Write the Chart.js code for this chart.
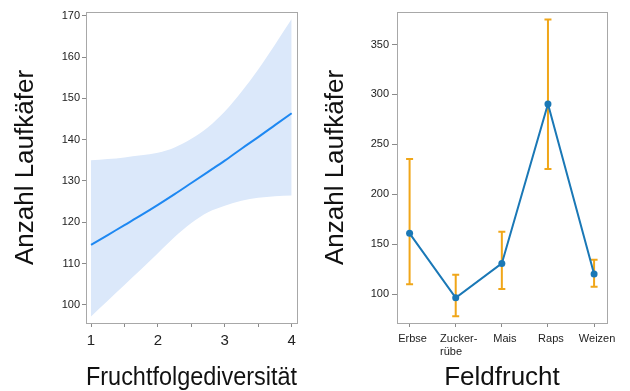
<!DOCTYPE html>
<html><head><meta charset="utf-8">
<script src="https://cdn.jsdelivr.net/npm/chart.js@4"></script>
<style>
html,body{margin:0;padding:0;background:#fff;}
#wrap{position:relative;width:630px;height:391px;overflow:hidden;background:#fff;}
canvas{position:absolute;top:0;}
</style></head><body>
<div id="wrap">
<canvas id="c1" width="315" height="391" style="left:0"></canvas>
<canvas id="c2" width="315" height="391" style="left:315px"></canvas>
</div>
<script>
// ---- Left panel: model fit vs. crop rotation diversity ----
const diversity = [1, 1.25, 1.5, 1.75, 2, 2.25, 2.5, 2.75, 3, 3.25, 3.5, 3.75, 4];
const fitMean   = [114.5, 116.9, 119.3, 121.7, 124.2, 126.8, 129.5, 132.2, 134.9, 137.8, 140.6, 143.5, 146.4];
const ciLower   = [97.2, 101.0, 104.8, 108.6, 112.5, 116.4, 119.8, 122.4, 124.0, 125.2, 125.9, 126.3, 126.5];
const ciUpper   = [135.0, 135.3, 135.7, 136.2, 136.8, 138.1, 140.2, 143.0, 146.8, 151.6, 157.0, 163.0, 169.2];
const diversityTicks = [1, 1.5, 2, 2.5, 3, 3.5, 4];
const leftYTicks = [100, 110, 120, 130, 140, 150, 160, 170];

// ---- Right panel: beetles per crop ----
const crops = ['Erbse', ['Zucker-', 'rübe     '], 'Mais', 'Raps', 'Weizen'];
const cropMean  = [160.8, 96.3, 130.7, 290.5, 120.0];
const cropLower = [109.7, 77.7, 105.0, 225.2, 107.3];
const cropUpper = [235.2, 119.3, 162.4, 375.0, 134.3];
const rightYTicks = [100, 150, 200, 250, 300, 350];

const FONT = "'Liberation Sans', Arial, Helvetica, sans-serif";
Chart.defaults.font.family = FONT;
Chart.defaults.color = '#222';

const framePlugin = {
  id: 'frame',
  afterDraw(chart) {
    const a = chart.chartArea, ctx = chart.ctx;
    ctx.save();
    ctx.strokeStyle = '#a8a8a8';
    ctx.lineWidth = 1;
    ctx.strokeRect(Math.round(a.left) + 0.5, Math.round(a.top) + 0.5,
                   Math.round(a.right - a.left), Math.round(a.bottom - a.top));
    ctx.restore();
  }
};

function axisGrid(len) {
  return { drawOnChartArea: false, drawTicks: true, tickLength: len, color: '#8a8a8a', lineWidth: 1 };
}

new Chart(document.getElementById('c1'), {
  type: 'line',
  data: {
    datasets: [
      { data: diversity.map((x, i) => ({ x, y: fitMean[i] })), borderColor: '#1e88f2', borderWidth: 2,
        pointRadius: 0, fill: false, cubicInterpolationMode: 'monotone' },
      { data: diversity.map((x, i) => ({ x, y: ciLower[i] })), borderWidth: 0, borderColor: 'rgba(0,0,0,0)',
        pointRadius: 0, fill: false, cubicInterpolationMode: 'monotone' },
      { data: diversity.map((x, i) => ({ x, y: ciUpper[i] })), borderWidth: 0, borderColor: 'rgba(0,0,0,0)',
        backgroundColor: '#dbe8fa', pointRadius: 0, fill: '-1', cubicInterpolationMode: 'monotone' }
    ]
  },
  options: {
    responsive: false, animation: false,
    layout: { padding: { top: 12, right: 18, bottom: 0, left: 0 } },
    plugins: { legend: { display: false }, tooltip: { enabled: false } },
    scales: {
      x: {
        type: 'linear', min: 0.925, max: 4.08,
        afterBuildTicks: s => { s.ticks = diversityTicks.map(v => ({ value: v })); },
        ticks: { callback: v => Number.isInteger(v) ? String(v) : '', font: { size: 15 }, color: '#222',
                 padding: 5, maxRotation: 0, autoSkip: false },
        grid: axisGrid(4), border: { display: false },
        title: { display: true, text: 'Fruchtfolgediversität', color: '#111',
                 font: { size: 26, lineHeight: 1 }, padding: { top: 0, bottom: 0 } },
        afterFit: s => { s.height = 68; }
      },
      y: {
        type: 'linear', min: 95.6, max: 170.9,
        afterBuildTicks: s => { s.ticks = leftYTicks.map(v => ({ value: v })); },
        ticks: { font: { size: 11 }, color: '#222', padding: 2 },
        grid: axisGrid(4), border: { display: false },
        title: { display: true, text: 'Anzahl Laufkäfer', color: '#111',
                 font: { size: 26, lineHeight: 1 }, padding: { top: 13, bottom: 0 } },
        afterFit: s => { s.width = 86; }
      }
    }
  },
  plugins: [framePlugin]
});

const errorBarPlugin = {
  id: 'errbars',
  beforeDatasetsDraw(chart) {
    const xs = chart.scales.x, ys = chart.scales.y, ctx = chart.ctx;
    ctx.save();
    ctx.strokeStyle = '#f0a619';
    ctx.lineWidth = 2;
    for (let i = 0; i < cropMean.length; i++) {
      const px = xs.getPixelForValue(i);
      const y1 = ys.getPixelForValue(cropLower[i]);
      const y2 = ys.getPixelForValue(cropUpper[i]);
      ctx.beginPath();
      ctx.moveTo(px, y1); ctx.lineTo(px, y2);
      ctx.moveTo(px - 3.5, y1); ctx.lineTo(px + 3.5, y1);
      ctx.moveTo(px - 3.5, y2); ctx.lineTo(px + 3.5, y2);
      ctx.stroke();
    }
    ctx.restore();
  }
};

new Chart(document.getElementById('c2'), {
  type: 'line',
  data: {
    datasets: [
      { data: cropMean.map((y, i) => ({ x: i, y })), borderColor: '#1a78b6', borderWidth: 2,
        pointRadius: 3.5, pointBackgroundColor: '#1a78b6', pointBorderWidth: 0, fill: false, tension: 0 }
    ]
  },
  options: {
    responsive: false, animation: false,
    layout: { padding: { top: 12, right: 23, bottom: 0, left: 0 } },
    plugins: { legend: { display: false }, tooltip: { enabled: false } },
    scales: {
      x: {
        type: 'linear', min: -0.273, max: 4.28,
        afterBuildTicks: s => { s.ticks = crops.map((c, i) => ({ value: i })); },
        ticks: { callback: v => crops[v], font: { size: 11 }, color: '#222',
                 padding: 5, labelOffset: 3, maxRotation: 0, autoSkip: false },
        grid: axisGrid(4), border: { display: false },
        title: { display: true, text: 'Feldfrucht', color: '#111',
                 font: { size: 26, lineHeight: 1 }, padding: { top: 0, bottom: 0 } },
        afterFit: s => { s.height = 68; }
      },
      y: {
        type: 'linear', min: 71, max: 382.6,
        afterBuildTicks: s => { s.ticks = rightYTicks.map(v => ({ value: v })); },
        ticks: { font: { size: 11 }, color: '#222', padding: 3 },
        grid: axisGrid(5), border: { display: false },
        title: { display: true, text: 'Anzahl Laufkäfer', color: '#111',
                 font: { size: 26, lineHeight: 1 }, padding: { top: 8, bottom: 0 } },
        afterFit: s => { s.width = 82; }
      }
    }
  },
  plugins: [framePlugin, errorBarPlugin]
});
</script>
</body></html>
